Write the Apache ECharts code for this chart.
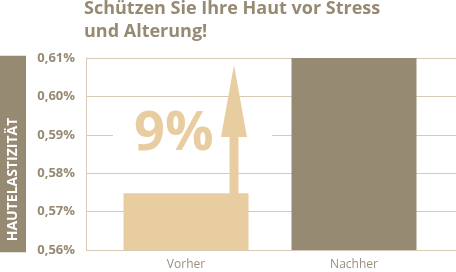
<!DOCTYPE html>
<html>
<head>
<meta charset="utf-8">
<script src="https://cdn.jsdelivr.net/npm/echarts@6/dist/echarts.min.js"></script>
<style>
  html,body{margin:0;padding:0;background:#fff}
  #chart{width:456px;height:272px}
</style>
</head>
<body>
<div id="chart"></div>
<script>
  var categories = ['Vorher', 'Nachher'];
  var values = [0.5748, 0.61];
  var barColors = ['#e8cda0', '#978a73'];
  var yTicks = [0.56, 0.57, 0.58, 0.59, 0.60, 0.61];
  var increase = '9%';

  var brown = '#978a73';
  var gridColor = '#d8cab6';

  var myChart = echarts.init(document.getElementById('chart'));

  var option = {
    animation: false,
    textStyle: { fontFamily: 'Open Sans' },
    title: {
      text: 'Schützen Sie Ihre Haut vor Stress\nund Alterung!',
      left: 84,
      top: -3,
      padding: 0,
      textStyle: {
        fontFamily: 'Open Sans',
        fontSize: 18,
        fontWeight: 'bold',
        lineHeight: 23,
        color: brown
      }
    },
    grid: [
      { left: 86, right: 0, top: 58, bottom: 22, containLabel: false, outerBoundsMode: 'none' },
      { left: 102, right: 18, top: 58, bottom: 22, containLabel: false, outerBoundsMode: 'none' }
    ],
    xAxis: [
      { gridIndex: 0, type: 'value', show: false },
      {
        gridIndex: 1,
        type: 'category',
        data: categories,
        axisLine: { show: false },
        axisTick: { show: false },
        axisLabel: { color: '#9a8f80', fontSize: 12, margin: 9, fontFamily: 'Open Sans' }
      }
    ],
    yAxis: [
      {
        gridIndex: 0,
        type: 'value',
        min: yTicks[0],
        max: yTicks[yTicks.length - 1],
        interval: 0.01,
        name: 'HAUTELASTIZITÄT',
        nameLocation: 'middle',
        nameRotate: 90,
        nameGap: 60,
        nameTextStyle: {
          color: '#fff',
          fontWeight: 'bold',
          fontSize: 14,
          fontFamily: 'Open Sans',
          backgroundColor: brown,
          padding: [6, 62, 6, 11],
          lineHeight: 14
        },
        axisLine: { show: true, lineStyle: { color: gridColor, width: 1 } },
        axisTick: { show: false },
        axisLabel: {
          color: brown,
          fontWeight: 'bold',
          fontSize: 13,
          margin: 11,
          fontFamily: 'Open Sans',
          formatter: function (v) { return v.toFixed(2).replace('.', ',') + '%'; }
        },
        splitLine: { show: true, lineStyle: { color: gridColor, width: 1 } }
      },
      {
        gridIndex: 1,
        type: 'value',
        min: yTicks[0],
        max: yTicks[yTicks.length - 1],
        show: false,
        splitLine: { show: false }
      }
    ],
    series: [
      {
        type: 'bar',
        xAxisIndex: 1,
        yAxisIndex: 1,
        barWidth: 125,
        z: 3,
        data: values.map(function (v, i) {
          return { value: v, itemStyle: { color: barColors[i] } };
        })
      }
    ]
  };

  myChart.setOption(option);

  // Pfeil und "9%" an die Balken hängen
  var p0 = myChart.convertToPixel({ seriesIndex: 0 }, [categories[0], values[0]]);
  var p1 = myChart.convertToPixel({ seriesIndex: 0 }, [categories[1], values[1]]);
  var ax = p0[0] + 48;
  var tipY = p1[1] + 7;
  var headY = tipY + 72;

  myChart.setOption({
    graphic: [
      {
        type: 'rect',
        z: 1,
        shape: { x: p0[0] - 73, y: headY - 20, width: 159, height: 40 },
        style: { fill: '#fff' }
      },
      {
        type: 'text',
        z: 5,
        x: p0[0] - 52,
        y: headY - 2,
        style: {
          text: increase,
          fill: barColors[0],
          font: 'bold 54px "Open Sans"',
          textVerticalAlign: 'middle'
        }
      },
      {
        type: 'polygon',
        z: 5,
        shape: { points: [[ax, tipY], [ax - 13, headY], [ax + 13, headY]] },
        style: { fill: barColors[0] }
      },
      {
        type: 'rect',
        z: 5,
        shape: { x: ax - 4.5, y: headY - 1, width: 9, height: p0[1] - headY + 2 },
        style: { fill: barColors[0] }
      }
    ]
  });
</script>
</body>
</html>
